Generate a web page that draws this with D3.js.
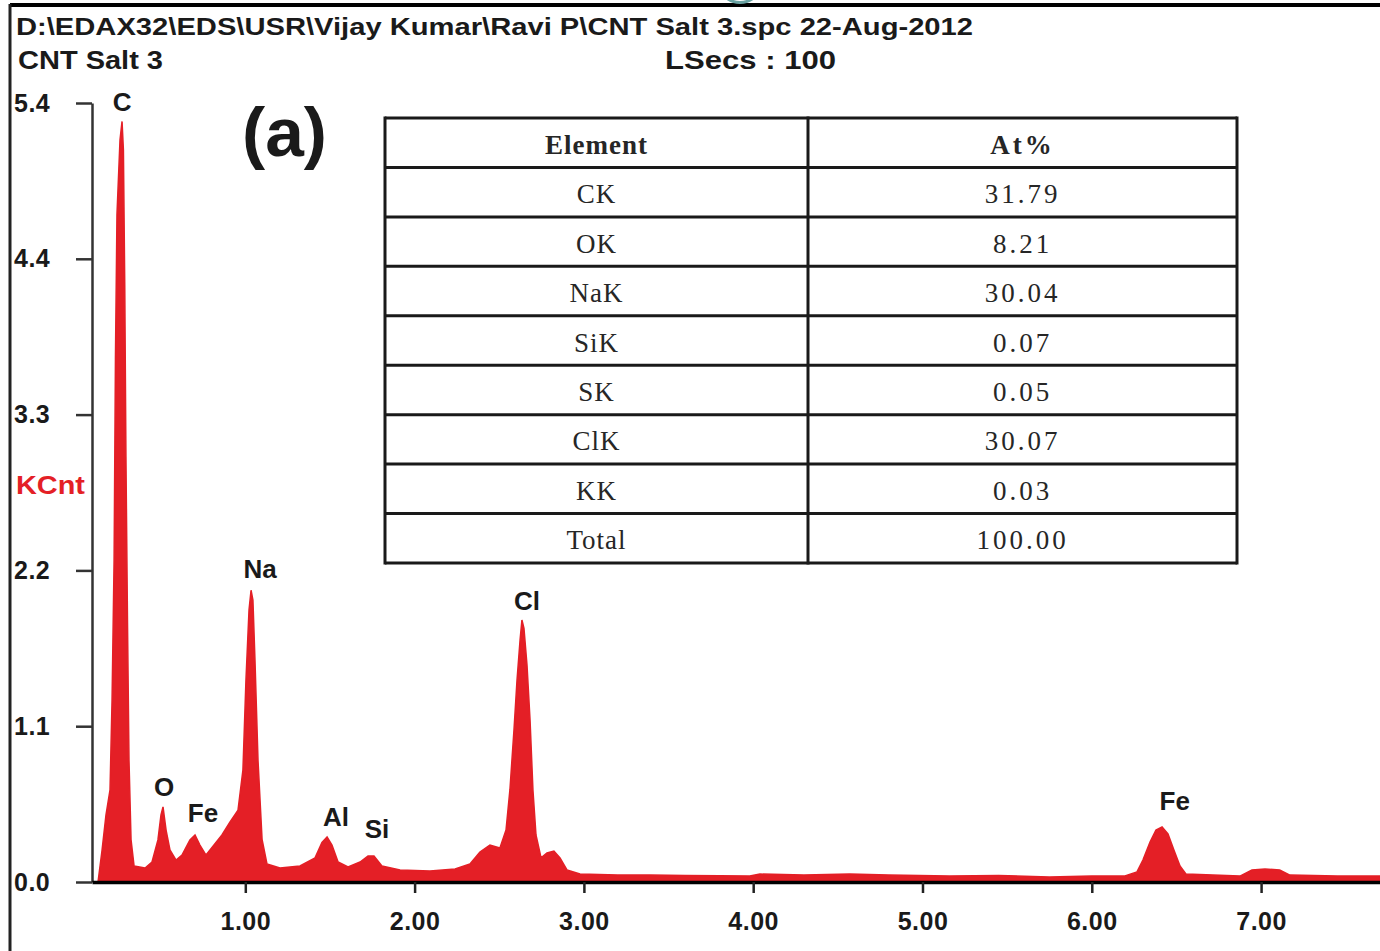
<!DOCTYPE html>
<html>
<head>
<meta charset="utf-8">
<script src="https://cdn.jsdelivr.net/npm/d3@7"></script>
<style>
  body { margin: 0; background: #fff; }
  svg text { font-family: "Liberation Sans", Arial, sans-serif; font-weight: bold; fill: #1a1a1a; }
  .tbl text { font-family: "Liberation Serif", "Times New Roman", serif; font-weight: normal; fill: #262626; }
</style>
</head>
<body>
<div id="chart"></div>
<script>
// spectrum: energy in keV, counts in KCnt
var energia = [0.130, 0.154, 0.177, 0.201, 0.213, 0.225, 0.233, 0.242, 0.260, 0.272, 0.280, 0.288, 0.295, 0.304, 0.313, 0.325,
  0.343, 0.408, 0.449, 0.484, 0.502, 0.514, 0.532, 0.555, 0.591, 0.626, 0.673, 0.703, 0.732, 0.768, 0.815, 0.862, 0.910, 0.957,
  0.986, 1.004, 1.022, 1.034, 1.045, 1.057, 1.075, 1.099, 1.128, 1.205, 1.323, 1.412, 1.453, 1.483, 1.512, 1.548, 1.607, 1.678,
  1.725, 1.760, 1.807, 1.914, 2.091, 2.239, 2.327, 2.386, 2.445, 2.504, 2.540, 2.563, 2.587, 2.605, 2.623, 2.634, 2.646, 2.664,
  2.682, 2.699, 2.717, 2.747, 2.782, 2.823, 2.859, 2.900, 2.977, 3.200, 3.390, 3.600, 3.800, 3.980, 4.040, 4.300, 4.570, 4.800,
  5.160, 5.450, 5.750, 6.000, 6.196, 6.267, 6.302, 6.344, 6.379, 6.415, 6.450, 6.485, 6.521, 6.556, 6.875, 6.946, 7.023, 7.110,
  7.170, 7.450, 7.700]
var cuentas = [0, 0.226, 0.473, 0.65, 1.285, 2.27, 3.69, 4.71, 5.24, 5.37, 5.17, 4.20, 3.00, 1.85, 0.86, 0.30,
  0.113, 0.099, 0.141, 0.297, 0.473, 0.53, 0.367, 0.226, 0.155, 0.19, 0.297, 0.332, 0.261, 0.19, 0.261, 0.332, 0.424, 0.508,
  0.79, 1.43, 1.92, 2.06, 1.99, 1.57, 0.86, 0.30, 0.127, 0.099, 0.113, 0.17, 0.28, 0.318, 0.261, 0.141, 0.106, 0.141,
  0.184, 0.184, 0.113, 0.085, 0.078, 0.092, 0.127, 0.212, 0.261, 0.24, 0.367, 0.65, 1.073, 1.426, 1.708, 1.85, 1.79, 1.53,
  1.14, 0.65, 0.332, 0.17, 0.205, 0.219, 0.17, 0.085, 0.056, 0.050, 0.049, 0.046, 0.045, 0.042, 0.056, 0.050, 0.056, 0.049,
  0.042, 0.046, 0.035, 0.042, 0.042, 0.071, 0.155, 0.282, 0.367, 0.388, 0.339, 0.226, 0.113, 0.056, 0.042, 0.085, 0.092, 0.085,
  0.049, 0.042, 0.042]

var picos = ["C", "O", "Fe", "Na", "Al", "Si", "Cl", "Fe"]
var picosKeV = [0.272, 0.52, 0.75, 1.087, 1.536, 1.778, 2.664, 6.49]
var picosAltura = [5.44, 0.607, 0.424, 2.146, 0.395, 0.311, 1.92, 0.508]

var ticksX = [1, 2, 3, 4, 5, 6, 7]
var ticksY = [0, 1.1, 2.2, 3.3, 4.4, 5.5]
var etiquetasY = ["0.0", "1.1", "2.2", "3.3", "4.4", "5.4"]

var elementos = ["Element", "CK", "OK", "NaK", "SiK", "SK", "ClK", "KK", "Total"]
var porcentajes = ["At%", "31.79", "8.21", "30.04", "0.07", "0.05", "30.07", "0.03", "100.00"]

var width = 1380, height = 951;
var rojo = "#e41f26";

var svg = d3.select("#chart").append("svg")
    .attr("width", width)
    .attr("height", height);

var x = d3.scaleLinear().domain([0.0945, 7.7]).range([92, 1379.6]);
var y = d3.scaleLinear().domain([0, 5.5]).range([882, 103]);

// marco
svg.append("line").attr("x1", 10).attr("x2", 1380).attr("y1", 5).attr("y2", 5)
    .attr("stroke", "#000").attr("stroke-width", 4);
svg.append("line").attr("x1", 10).attr("x2", 10).attr("y1", 4).attr("y2", 951)
    .attr("stroke", "#222").attr("stroke-width", 3);
svg.append("path").attr("d", d3.arc()({innerRadius: 21, outerRadius: 24, startAngle: Math.PI * 0.6, endAngle: Math.PI * 1.4}))
    .attr("transform", "translate(740,-20)").attr("fill", "#6aa3a3");

// cabecera
svg.append("text").attr("x", 16).attr("y", 35).style("font-size", "24px")
    .attr("textLength", 957).attr("lengthAdjust", "spacingAndGlyphs")
    .text("D:\\EDAX32\\EDS\\USR\\Vijay Kumar\\Ravi P\\CNT Salt 3.spc  22-Aug-2012");
svg.append("text").attr("x", 18).attr("y", 69).style("font-size", "25px")
    .attr("textLength", 145).attr("lengthAdjust", "spacingAndGlyphs").text("CNT Salt 3");
svg.append("text").attr("x", 665).attr("y", 69).style("font-size", "25px")
    .attr("textLength", 171).attr("lengthAdjust", "spacingAndGlyphs").text("LSecs :  100");
svg.append("text").attr("x", 242).attr("y", 156).style("font-size", "68px")
    .attr("textLength", 85).attr("lengthAdjust", "spacingAndGlyphs").text("(a)");
svg.append("text").attr("x", 16).attr("y", 494).style("font-size", "25px").style("fill", rojo)
    .attr("textLength", 69).attr("lengthAdjust", "spacingAndGlyphs").text("KCnt");

// espectro
var area = d3.area()
    .x(function (d, i) { return x(energia[i]); })
    .y0(y(0))
    .y1(function (d) { return y(d); })
    .curve(d3.curveLinear);

svg.append("path")
    .datum(cuentas)
    .attr("fill", rojo)
    .attr("stroke", rojo)
    .attr("stroke-width", 1.5)
    .attr("d", area);

// ejes
var ejeY = svg.append("g")
    .attr("transform", "translate(92,0)")
    .call(d3.axisLeft(y).tickValues(ticksY).tickSize(16).tickSizeOuter(0).tickPadding(22)
        .tickFormat(function (d, i) { return etiquetasY[i]; }));
ejeY.select(".domain").attr("stroke", "#333").attr("stroke-width", 2.5);
ejeY.selectAll(".tick line").attr("stroke", "#333").attr("stroke-width", 2.5);
ejeY.selectAll(".tick text").attr("x", -78).style("text-anchor", "start")
    .style("font-size", "25px").attr("letter-spacing", 0.5).attr("fill", "#1a1a1a");

var ejeX = svg.append("g")
    .attr("transform", "translate(0,882)")
    .call(d3.axisBottom(x).tickValues(ticksX).tickSize(11).tickSizeOuter(0).tickPadding(19)
        .tickFormat(d3.format(".2f")));
ejeX.select(".domain").attr("stroke", "#000").attr("stroke-width", 3.5);
ejeX.selectAll(".tick line").attr("stroke", "#222").attr("stroke-width", 2.5);
ejeX.selectAll(".tick text").style("font-size", "25px").attr("letter-spacing", 0.5).attr("fill", "#1a1a1a");

// etiquetas de picos
svg.selectAll(".pico")
    .data(picos)
    .enter().append("text")
    .attr("class", "pico")
    .attr("x", function (d, i) { return x(picosKeV[i]); })
    .attr("y", function (d, i) { return y(picosAltura[i]); })
    .style("text-anchor", "middle")
    .style("font-size", "26px")
    .text(function (d) { return d; });

// tabla
var tx0 = 385, tx1 = 808, tx2 = 1237, ty0 = 118, ty1 = 563;
var filas = d3.scaleBand().domain(d3.range(elementos.length)).range([ty0, ty1]);
var tabla = svg.append("g").attr("class", "tbl");

tabla.selectAll(".hl")
    .data(d3.range(elementos.length + 1))
    .enter().append("line")
    .attr("x1", tx0).attr("x2", tx2)
    .attr("y1", function (d) { return d < elementos.length ? filas(d) : ty1; })
    .attr("y2", function (d) { return d < elementos.length ? filas(d) : ty1; })
    .attr("stroke", "#1a1a1a").attr("stroke-width", 3);
tabla.selectAll(".vl")
    .data([tx0, tx1, tx2])
    .enter().append("line")
    .attr("x1", function (d) { return d; }).attr("x2", function (d) { return d; })
    .attr("y1", ty0 - 1.5).attr("y2", ty1 + 1.5)
    .attr("stroke", "#1a1a1a").attr("stroke-width", 3);

tabla.selectAll(".c1")
    .data(elementos)
    .enter().append("text")
    .attr("x", (tx0 + tx1) / 2)
    .attr("y", function (d, i) { return filas(i) + filas.bandwidth() / 2 + 11; })
    .style("text-anchor", "middle").style("font-size", "27px")
    .style("font-weight", function (d, i) { return i == 0 ? "bold" : "normal"; })
    .attr("letter-spacing", 1)
    .text(function (d) { return d; });
tabla.selectAll(".c2")
    .data(porcentajes)
    .enter().append("text")
    .attr("x", (tx1 + tx2) / 2)
    .attr("y", function (d, i) { return filas(i) + filas.bandwidth() / 2 + 11; })
    .style("text-anchor", "middle").style("font-size", "27px")
    .style("font-weight", function (d, i) { return i == 0 ? "bold" : "normal"; })
    .attr("letter-spacing", 3)
    .text(function (d) { return d; });
</script>
</body>
</html>
